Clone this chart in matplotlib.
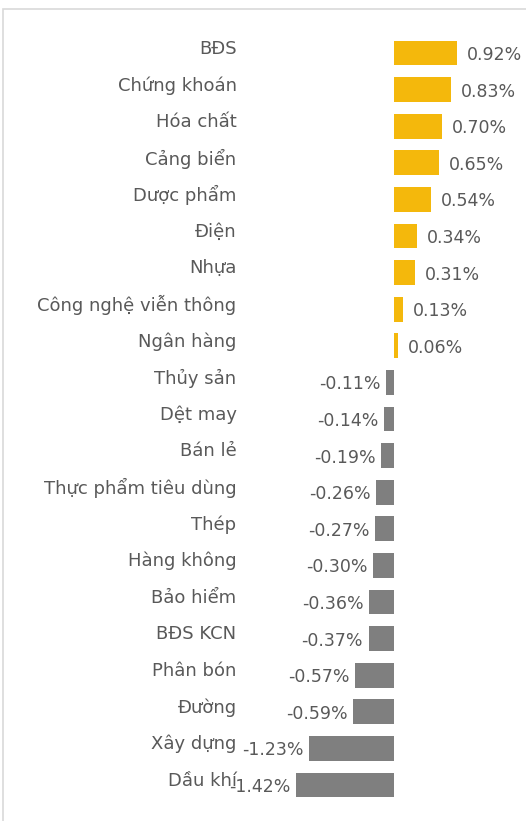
import matplotlib
matplotlib.use("Agg")
import matplotlib.pyplot as plt
import matplotlib.transforms as mtransforms
from matplotlib.patches import Rectangle

# Ngành và mức thay đổi (%)
nganh = ["BĐS", "Chứng khoán", "Hóa chất", "Cảng biển", "Dược phẩm", "Điện", "Nhựa",
         "Công nghệ viễn thông", "Ngân hàng", "Thủy sản", "Dệt may", "Bán lẻ",
         "Thực phẩm tiêu dùng", "Thép", "Hàng không", "Bảo hiểm", "BĐS KCN",
         "Phân bón", "Đường", "Xây dựng", "Dầu khí"]
thay_doi = [0.92, 0.83, 0.70, 0.65, 0.54, 0.34, 0.31, 0.13, 0.06, -0.11, -0.14, -0.19,
            -0.26, -0.27, -0.30, -0.36, -0.37, -0.57, -0.59, -1.23, -1.42]

vang = "#F4B80C"
xam = "#7F7F7F"
chu = "#595959"

W, H = 526, 821
fig = plt.figure(figsize=(W / 100, H / 100), dpi=100)

# khung ngoài (chỉ thấy cạnh trái và cạnh trên)
fig.patches.append(Rectangle((3 / W, -0.05), 1.1, 1.05 - 9 / H, transform=fig.transFigure,
                             fill=False, edgecolor="#D9D9D9", linewidth=1.2))

x0, zero, scale = 245, 394, 68.8
top, bottom = 34.7, 803.3
ax = fig.add_axes([x0 / W, 1 - bottom / H, (W - x0) / W, (bottom - top) / H])
ax.set_xlim((x0 - zero) / scale, (W - zero) / scale)
ax.set_ylim(len(nganh) - 0.5, -0.5)
ax.axis("off")

y = list(range(len(nganh)))
mau = [vang if v >= 0 else xam for v in thay_doi]
ax.barh(y, thay_doi, height=0.68, color=mau)

up = mtransforms.ScaledTranslation(0, 3 / 72, fig.dpi_scale_trans)
lab_tr = mtransforms.blended_transform_factory(ax.transAxes, ax.transData)
for i, (ten, v) in enumerate(zip(nganh, thay_doi)):
    ax.text(-0.03, i, ten, transform=lab_tr + up, ha="right", va="center",
            fontsize=13, color=chu, clip_on=False)
    txt = f"{v:.2f}%"
    if v >= 0:
        ax.annotate(txt, (v, i), xytext=(7, -1.5), textcoords="offset points",
                    ha="left", va="center", fontsize=12.5, color=chu,
                    annotation_clip=False)
    else:
        ax.annotate(txt, (v, i), xytext=(-4, -1.5), textcoords="offset points",
                    ha="right", va="center", fontsize=12.5, color=chu,
                    annotation_clip=False)

fig.savefig("out.png", dpi=100)
